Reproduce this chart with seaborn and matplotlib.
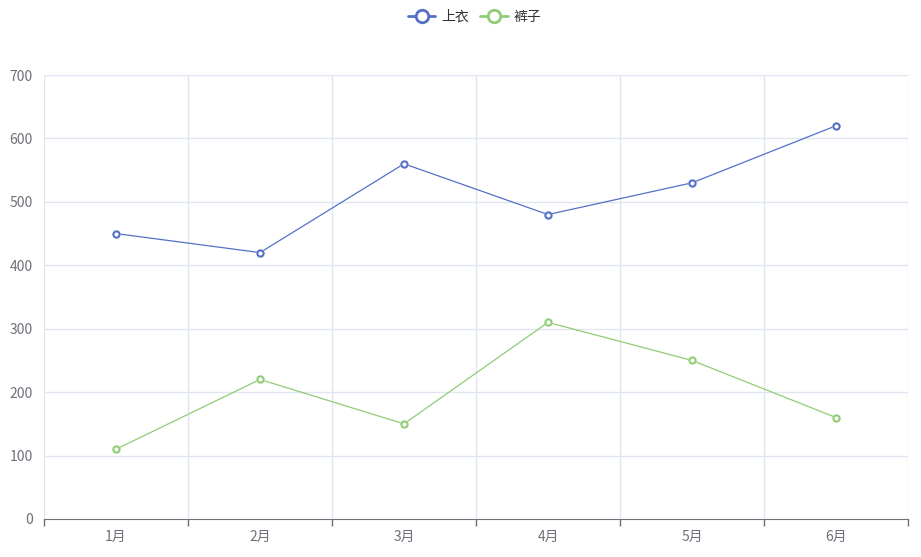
import matplotlib
matplotlib.use('Agg')
import matplotlib.pyplot as plt
import seaborn as sns
import pandas as pd
import numpy as np

months = ['1月', '2月', '3月', '4月', '5月', '6月']
tops = [450, 420, 560, 480, 530, 620]
pants = [110, 220, 150, 310, 250, 160]

sns.set_style('white')
plt.rcParams['font.family'] = ['Noto Sans CJK SC', 'DejaVu Sans']

df = pd.DataFrame({
    'x': list(range(len(months))) * 2,
    'v': tops + pants,
    's': ['上衣'] * len(months) + ['裤子'] * len(months),
})

fig = plt.figure(figsize=(9.21, 5.57), dpi=100)
ax = fig.add_axes([44 / 921, 38 / 557, 864 / 921, 444 / 557])
palette = {'上衣': '#5470c6', '裤子': '#91cc75'}
sns.lineplot(data=df, x='x', y='v', hue='s', palette=palette, ax=ax,
             marker='o', markersize=4.5, markerfacecolor='white',
             markeredgewidth=1.5, linewidth=0.9, legend=False)
for name, c in palette.items():
    sub = df[df.s == name]
    ax.plot(sub.x, sub.v, 'o', ms=4.5, mfc='white', mec=c, mew=1.5, zorder=5)

ax.set_xlim(-0.5, len(months) - 0.5)
ax.set_ylim(0, 700)
ax.set_yticks(range(0, 701, 100))
ax.set_xticks(range(len(months)))
ax.set_xticklabels(months)
ax.set_xticks(np.arange(-0.5, len(months), 1), minor=True)
ax.set_xlabel('')
ax.set_ylabel('')
for y in range(100, 701, 100):
    ax.axhline(y, color='#e0e6f1', lw=1, zorder=0)
for x in np.arange(-0.5, len(months), 1):
    ax.axvline(x, color='#e0e6f1', lw=1, zorder=0)
for s in ['top', 'right', 'left']:
    ax.spines[s].set_visible(False)
ax.spines['bottom'].set_color('#6e7079')
ax.tick_params(axis='x', which='major', bottom=True, length=0, colors='#6e7079', labelsize=10, pad=8)
ax.tick_params(axis='x', which='minor', bottom=True, length=5, width=1, color='#6e7079', direction='out')
ax.tick_params(axis='y', length=0, colors='#6e7079', labelsize=10, pad=8)

handles = [plt.Line2D([], [], color=c, lw=2, marker='o', ms=9, mfc='white', mew=2)
           for c in palette.values()]
fig.legend(handles, list(palette.keys()), loc='upper center', ncol=2, frameon=False,
           bbox_to_anchor=(0.515, 1.005), fontsize=10, handlelength=2, columnspacing=0.8,
           handletextpad=0.4, labelcolor='#333333')

fig.savefig('out.png', dpi=100)
